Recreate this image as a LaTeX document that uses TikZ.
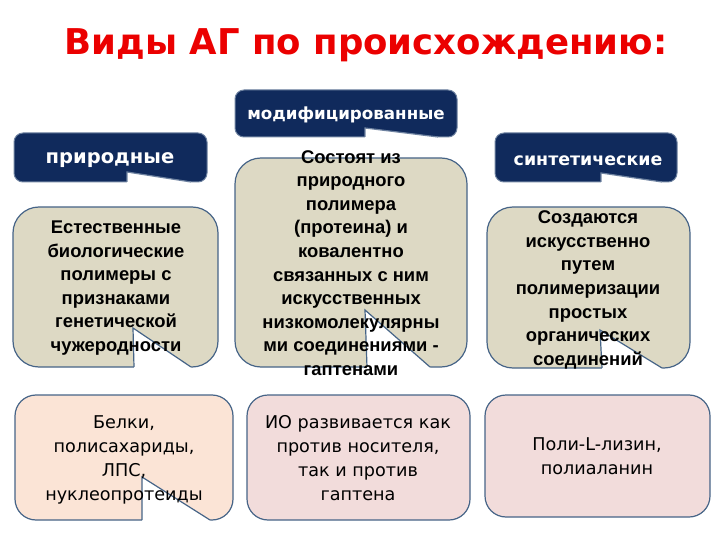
\documentclass[tikz,border=0pt]{standalone}
\usepackage{fontspec}
\setmainfont{Liberation Sans}
\newfontfamily\comicfont{DejaVu Sans}
\definecolor{navy}{RGB}{16,42,92}
\definecolor{navyedge}{RGB}{110,130,160}
\definecolor{beige}{RGB}{221,217,196}
\definecolor{edgeblue}{RGB}{70,100,135}
\definecolor{peach}{RGB}{251,228,214}
\definecolor{pinkbox}{RGB}{242,220,219}
\definecolor{titlered}{RGB}{235,0,0}
% notched callout: #1 style, #2 x1, #3 y1, #4 x2, #5 y2, #6 notch left x, #7 tip "x,y", #8 notch right x, #9 edge colour
\newcommand\nbox[9]{%
  \path[#1] (#2,#3) rectangle (#4,#5);
  \fill[white] (#6,#5+2.5) -- (#6,#5) -- (#7) -- (#8,#5) -- (#8,#5+2.5) -- cycle;
  \draw[#9, line width=1.2pt, line join=miter] (#6,#5) -- (#7) -- (#8,#5);
}
\tikzset{
  headbox/.style={fill=navy, draw=navyedge, line width=1pt, rounded corners=9pt},
  beigebox/.style={fill=beige, draw=edgeblue, line width=1.2pt, rounded corners=26pt},
  peachbox/.style={fill=peach, draw=edgeblue, line width=1.2pt, rounded corners=21pt},
  pinkrbox/.style={fill=pinkbox, draw=edgeblue, line width=1.2pt, rounded corners=21pt},
  headtxt/.style={text=white, font=\comicfont\bfseries\fontsize{19.5}{22}\selectfont, inner sep=0pt},
  btxt/.style={align=center, font=\bfseries\fontsize{18.4}{23.6}\selectfont, inner sep=0pt},
  ctxt/.style={align=center, font=\comicfont\fontsize{17.6}{24}\selectfont, inner sep=0pt}
}
\begin{document}
\begin{tikzpicture}[x=1pt,y=-1pt]
\useasboundingbox (0,0) rectangle (720,540);

% title
\node[text=titlered, font=\comicfont\bfseries\fontsize{35.5}{40}\selectfont, inner sep=0pt] (title) at (366,45) {Виды АГ по происхождению:};

% header boxes
\nbox{headbox}{14}{133}{207}{182}{127}{127,172}{191}{navyedge}
\node[headtxt] (h1) at (110,160) {природные};
\nbox{headbox}{235}{90}{457}{137}{365}{365,128}{438}{navyedge}
\node[headtxt, font=\comicfont\bfseries\fontsize{16.7}{19}\selectfont] (h2) at (346,115) {модифицированные};
\nbox{headbox}{495}{133}{677}{182}{601}{601,173}{662}{navyedge}
\node[headtxt, font=\comicfont\bfseries\fontsize{17.4}{20}\selectfont] (h3) at (588,161) {синтетические};

% beige boxes
\nbox{beigebox}{13}{207}{218}{367}{134}{133,328}{191}{edgeblue}
\node[btxt] (b1) at (116,288) {Естественные\\биологические\\полимеры с\\признаками\\генетической\\чужеродности};
\nbox{beigebox}{235}{158}{467}{367}{367}{365,310}{430}{edgeblue}
\node[btxt] (b2) at (351,263) {Состоят из\\природного\\полимера\\(протеина) и\\ковалентно\\связанных с ним\\искусственных\\низкомолекулярны\\ми соединениями -\\гаптенами};
\nbox{beigebox}{487}{207}{690}{368}{602}{600,330}{662}{edgeblue}
\node[btxt] (b3) at (588,290) {Создаются\\искусственно\\путем\\полимеризации\\простых\\органических\\соединений};

% bottom boxes
\nbox{peachbox}{15}{395}{233}{520}{142}{142,477}{210}{edgeblue}
\node[ctxt] (c1) at (124,460) {Белки,\\полисахариды,\\ЛПС,\\нуклеопротеиды};
\path[pinkrbox] (247,395) rectangle (470,520);
\node[ctxt] (c2) at (358,458) {ИО развивается как\\против носителя,\\так и против\\гаптена};
\path[pinkrbox] (485,395) rectangle (710,517);
\node[ctxt] (c3) at (597,456) {Поли-L-лизин,\\полиаланин};
\end{tikzpicture}
\end{document}
